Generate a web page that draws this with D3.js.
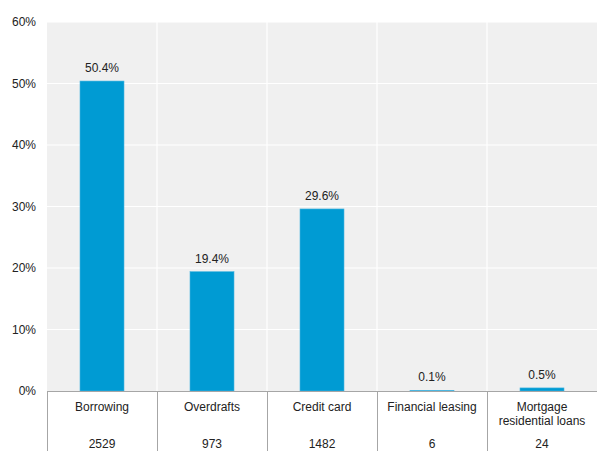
<!DOCTYPE html>
<html>
<head>
<meta charset="utf-8">
<script src="https://cdn.jsdelivr.net/npm/d3@7"></script>
<style>
  html, body { margin: 0; padding: 0; background: #fff; }
  svg { display: block; font-family: "Liberation Sans", Arial, sans-serif; }
</style>
</head>
<body>
<svg id="chart" width="597" height="451"></svg>
<script>
// Loan categories, share of total, and number of cases
const categories = ["Borrowing", "Overdrafts", "Credit card", "Financial leasing", "Mortgage residential loans"];
const categoryLines = [["Borrowing"], ["Overdrafts"], ["Credit card"], ["Financial leasing"], ["Mortgage", "residential loans"]];
const shares = [50.4, 19.4, 29.6, 0.1, 0.5];
const counts = [2529, 973, 1482, 6, 24];
const yTicks = [0, 10, 20, 30, 40, 50, 60];

const svg = d3.select("#chart");
const W = 597, H = 451;
const plotLeft = 47, plotRight = 597, plotTop = 22, plotBase = 391;

const x = d3.scaleBand().domain(categories).range([plotLeft, plotRight]).paddingInner(0).paddingOuter(0);
const y = d3.scaleLinear().domain([0, 60]).range([plotBase, plotTop]);

// Plot background
svg.append("rect")
  .attr("x", plotLeft).attr("y", plotTop)
  .attr("width", plotRight - plotLeft).attr("height", plotBase - plotTop)
  .attr("fill", "#f0f0f0");

// Horizontal gridlines
svg.append("g").selectAll("line").data(yTicks.slice(1)).join("line")
  .attr("x1", plotLeft).attr("x2", plotRight)
  .attr("y1", d => y(d)).attr("y2", d => y(d))
  .attr("stroke", "#ffffff").attr("stroke-width", 1.2);

// Vertical separators between categories in the plot
svg.append("g").selectAll("line").data(categories.slice(1)).join("line")
  .attr("x1", d => x(d)).attr("x2", d => x(d))
  .attr("y1", plotTop).attr("y2", plotBase)
  .attr("stroke", "#ffffff").attr("stroke-width", 1.2);

// Y axis tick labels
const yAxis = d3.axisLeft(y).tickValues(yTicks).tickFormat(d => d + "%").tickSize(0).tickPadding(11);
const gy = svg.append("g").attr("transform", `translate(${plotLeft},0)`).call(yAxis);
gy.select(".domain").remove();
gy.selectAll("text").attr("font-size", 12).attr("fill", "#222")
  .attr("font-family", "\"Liberation Sans\", Arial, sans-serif");

// Bars
const barW = x.bandwidth() * 0.4;
svg.append("g").selectAll("rect").data(categories).join("rect")
  .attr("x", d => x(d) + (x.bandwidth() - barW) / 2)
  .attr("width", barW)
  .attr("y", (d, i) => y(shares[i]))
  .attr("height", (d, i) => plotBase - y(shares[i]))
  .attr("fill", "#009bd3")
  .attr("stroke", "#4ab6e0").attr("stroke-width", 0.6);

// Value labels
svg.append("g").selectAll("text").data(categories).join("text")
  .attr("x", d => x(d) + x.bandwidth() / 2)
  .attr("y", (d, i) => y(shares[i]) - 9)
  .attr("text-anchor", "middle")
  .attr("font-size", 12).attr("fill", "#222")
  .text((d, i) => shares[i].toFixed(1) + "%");

// Data table beneath the axis
const table = svg.append("g");
table.append("line")
  .attr("x1", plotLeft).attr("x2", plotRight).attr("y1", plotBase + 0.5).attr("y2", plotBase + 0.5)
  .attr("stroke", "#a6a6a6").attr("stroke-width", 1);
table.selectAll("line.sep").data(categories).join("line").attr("class", "sep")
  .attr("x1", d => Math.round(x(d)) + 0.5).attr("x2", d => Math.round(x(d)) + 0.5)
  .attr("y1", plotBase).attr("y2", H)
  .attr("stroke", "#a6a6a6").attr("stroke-width", 1);

const labels = table.selectAll("text.cat").data(categories).join("text").attr("class", "cat")
  .attr("x", d => x(d) + x.bandwidth() / 2)
  .attr("y", 411)
  .attr("text-anchor", "middle")
  .attr("font-size", 12).attr("fill", "#222");
labels.each(function(d, i) {
  const t = d3.select(this);
  categoryLines[i].forEach((line, j) => {
    t.append("tspan").attr("x", x(d) + x.bandwidth() / 2).attr("dy", j === 0 ? 0 : 14).text(line);
  });
});

table.selectAll("text.cnt").data(categories).join("text").attr("class", "cnt")
  .attr("x", d => x(d) + x.bandwidth() / 2)
  .attr("y", 448)
  .attr("text-anchor", "middle")
  .attr("font-size", 12).attr("fill", "#222")
  .text((d, i) => counts[i]);
</script>
</body>
</html>
